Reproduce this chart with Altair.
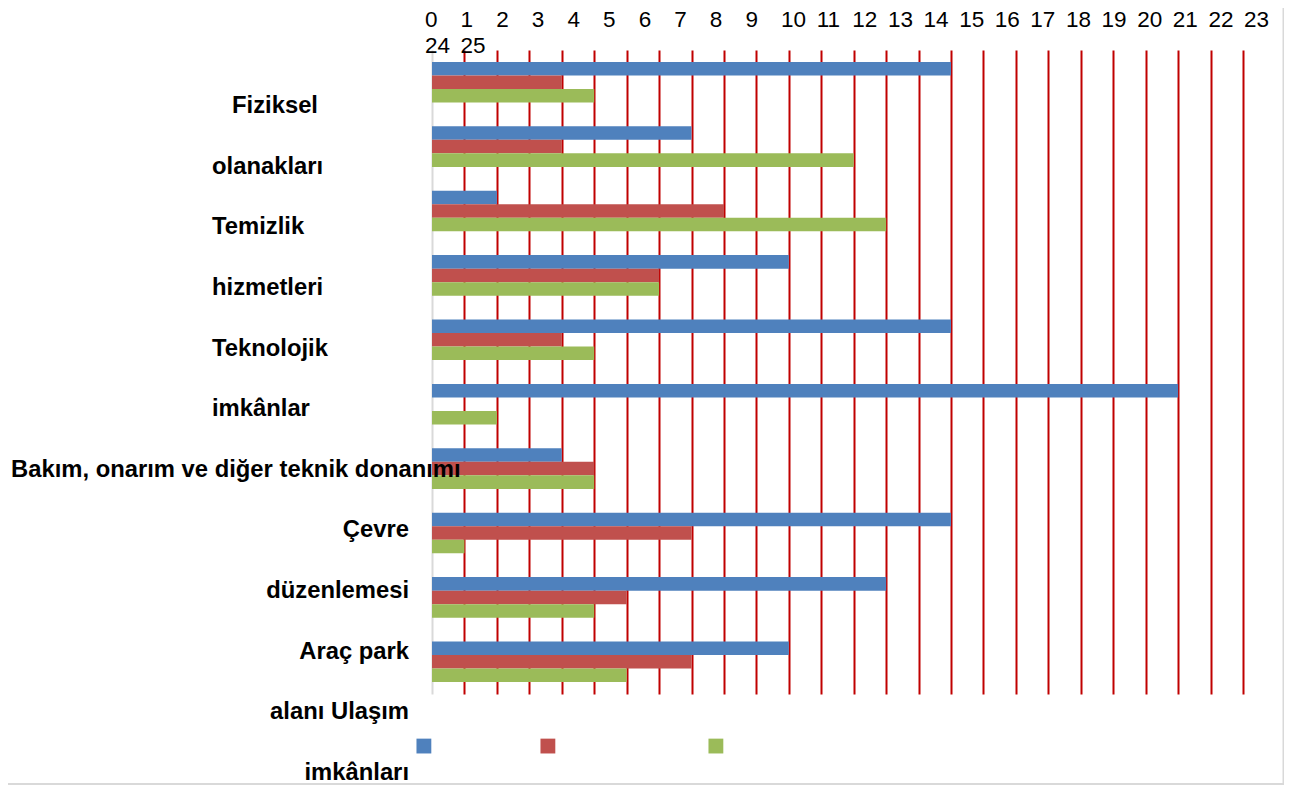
import altair as alt
import pandas as pd

# ---- data ----
groups = list(range(1, 11))
series = ["Seri 1", "Seri 2", "Seri 3"]
blue = [16, 8, 2, 11, 16, 23, 4, 16, 14, 11]
red = [4, 4, 9, 7, 4, 0, 5, 8, 6, 8]
green = [5, 13, 14, 7, 5, 2, 5, 1, 5, 6]
colors = ["#4F81BD", "#C0504D", "#9BBB59"]

row_labels = ["Fiziksel", "olanakları", "Temizlik", "hizmetleri", "Teknolojik", "imkânlar",
              "Bakım, onarım ve diğer teknik donanımı", "Çevre", "düzenlemesi", "Araç park",
              "alanı Ulaşım", "imkânları"]
tick_labels = [str(i) for i in range(26)]

bars_df = pd.DataFrame(
    [{"group": g, "series": s, "value": v}
     for s, vals in zip(series, [blue, red, green])
     for g, v in zip(groups, vals)]
)
lab_df = pd.DataFrame({"text": row_labels, "row": list(range(len(row_labels)))})
tick_df = pd.DataFrame({
    "text": tick_labels,
    "col": [i % 24 for i in range(len(tick_labels))],
    "line": [i // 24 for i in range(len(tick_labels))],
})

FONT = "Liberation Sans"

bars = alt.Chart(bars_df).mark_bar().encode(
    x=alt.X("value:Q", scale=alt.Scale(domain=[0, 25], nice=False, zero=True),
            axis=alt.Axis(orient="top", values=list(range(1, 26)), grid=True,
                          gridColor="#C00000", gridWidth=2, gridOpacity=1,
                          labels=False, ticks=False, domain=False, title=None)),
    y=alt.Y("group:O", scale=alt.Scale(paddingInner=0.37, paddingOuter=0.185),
            axis=alt.Axis(labels=False, ticks=False, title=None, grid=False,
                          domainColor="#D9D9D9", domainWidth=2)),
    yOffset=alt.YOffset("series:N", scale=alt.Scale(domain=series)),
    color=alt.Color("series:N", scale=alt.Scale(domain=series, range=colors),
                    legend=alt.Legend(orient="none", legendX=-18, legendY=686,
                                      direction="horizontal", symbolType="square",
                                      symbolSize=220, symbolStrokeWidth=0,
                                      symbolOpacity=1, labelOpacity=0,
                                      labelFont=FONT, labelFontSize=19.78,
                                      labelOffset=4,
                                      labelExpr="datum.index == 1 ? 'nnnnnnnnn' : 'nnnnn'",
                                      title=None, columnPadding=45)),
)


def lab_layer(rows, x, align):
    return alt.Chart(lab_df).transform_filter(
        alt.FieldOneOfPredicate(field="row", oneOf=rows)
    ).mark_text(align=align, baseline="alphabetic", font=FONT, fontSize=23.8,
                fontWeight="bold", color="black").encode(
        y=alt.Y("row:Q", scale=alt.Scale(domain=[0, 11], range=[63, 730],
                                         zero=False, nice=False), axis=None),
        x=alt.value(x),
        text="text:N",
    )


labels = [
    lab_layer([0], -200, "left"),
    lab_layer([1, 2, 3, 4, 5], -220, "left"),
    lab_layer([6], -421, "left"),
    lab_layer([7, 8, 9, 10, 11], -23, "right"),
]

ticks = alt.Chart(tick_df).mark_text(align="left", baseline="alphabetic", font=FONT,
                                     fontSize=22.5, color="black").encode(
    x=alt.X("col:Q", scale=alt.Scale(domain=[0, 23], range=[-7, 812], zero=False,
                                     nice=False), axis=None),
    y=alt.Y("line:Q", scale=alt.Scale(domain=[0, 1], range=[-23, 3], zero=False,
                                      nice=False), axis=None),
    text="text:N",
)

frame_df = pd.DataFrame({"k": [0]})
border_right = alt.Chart(frame_df).mark_rule(color="#D9D9D9", strokeWidth=2).encode(
    x=alt.value(851.5), y=alt.value(-42), y2=alt.value(735)
)
border_bottom = alt.Chart(frame_df).mark_rule(color="#D9D9D9", strokeWidth=2).encode(
    x=alt.value(-432), x2=alt.value(852.5), y=alt.value(734)
)

chart = alt.layer(bars, *labels, ticks, border_right, border_bottom).resolve_scale(
    x="independent", y="independent"
).properties(
    width=811, height=644,
    autosize=alt.AutoSizeParams(type="none"),
    padding={"left": 424, "top": 42, "right": 41, "bottom": 96},
).configure_view(stroke=None)

chart.save("out.html", embed_options={"renderer": "svg", "actions": False})
